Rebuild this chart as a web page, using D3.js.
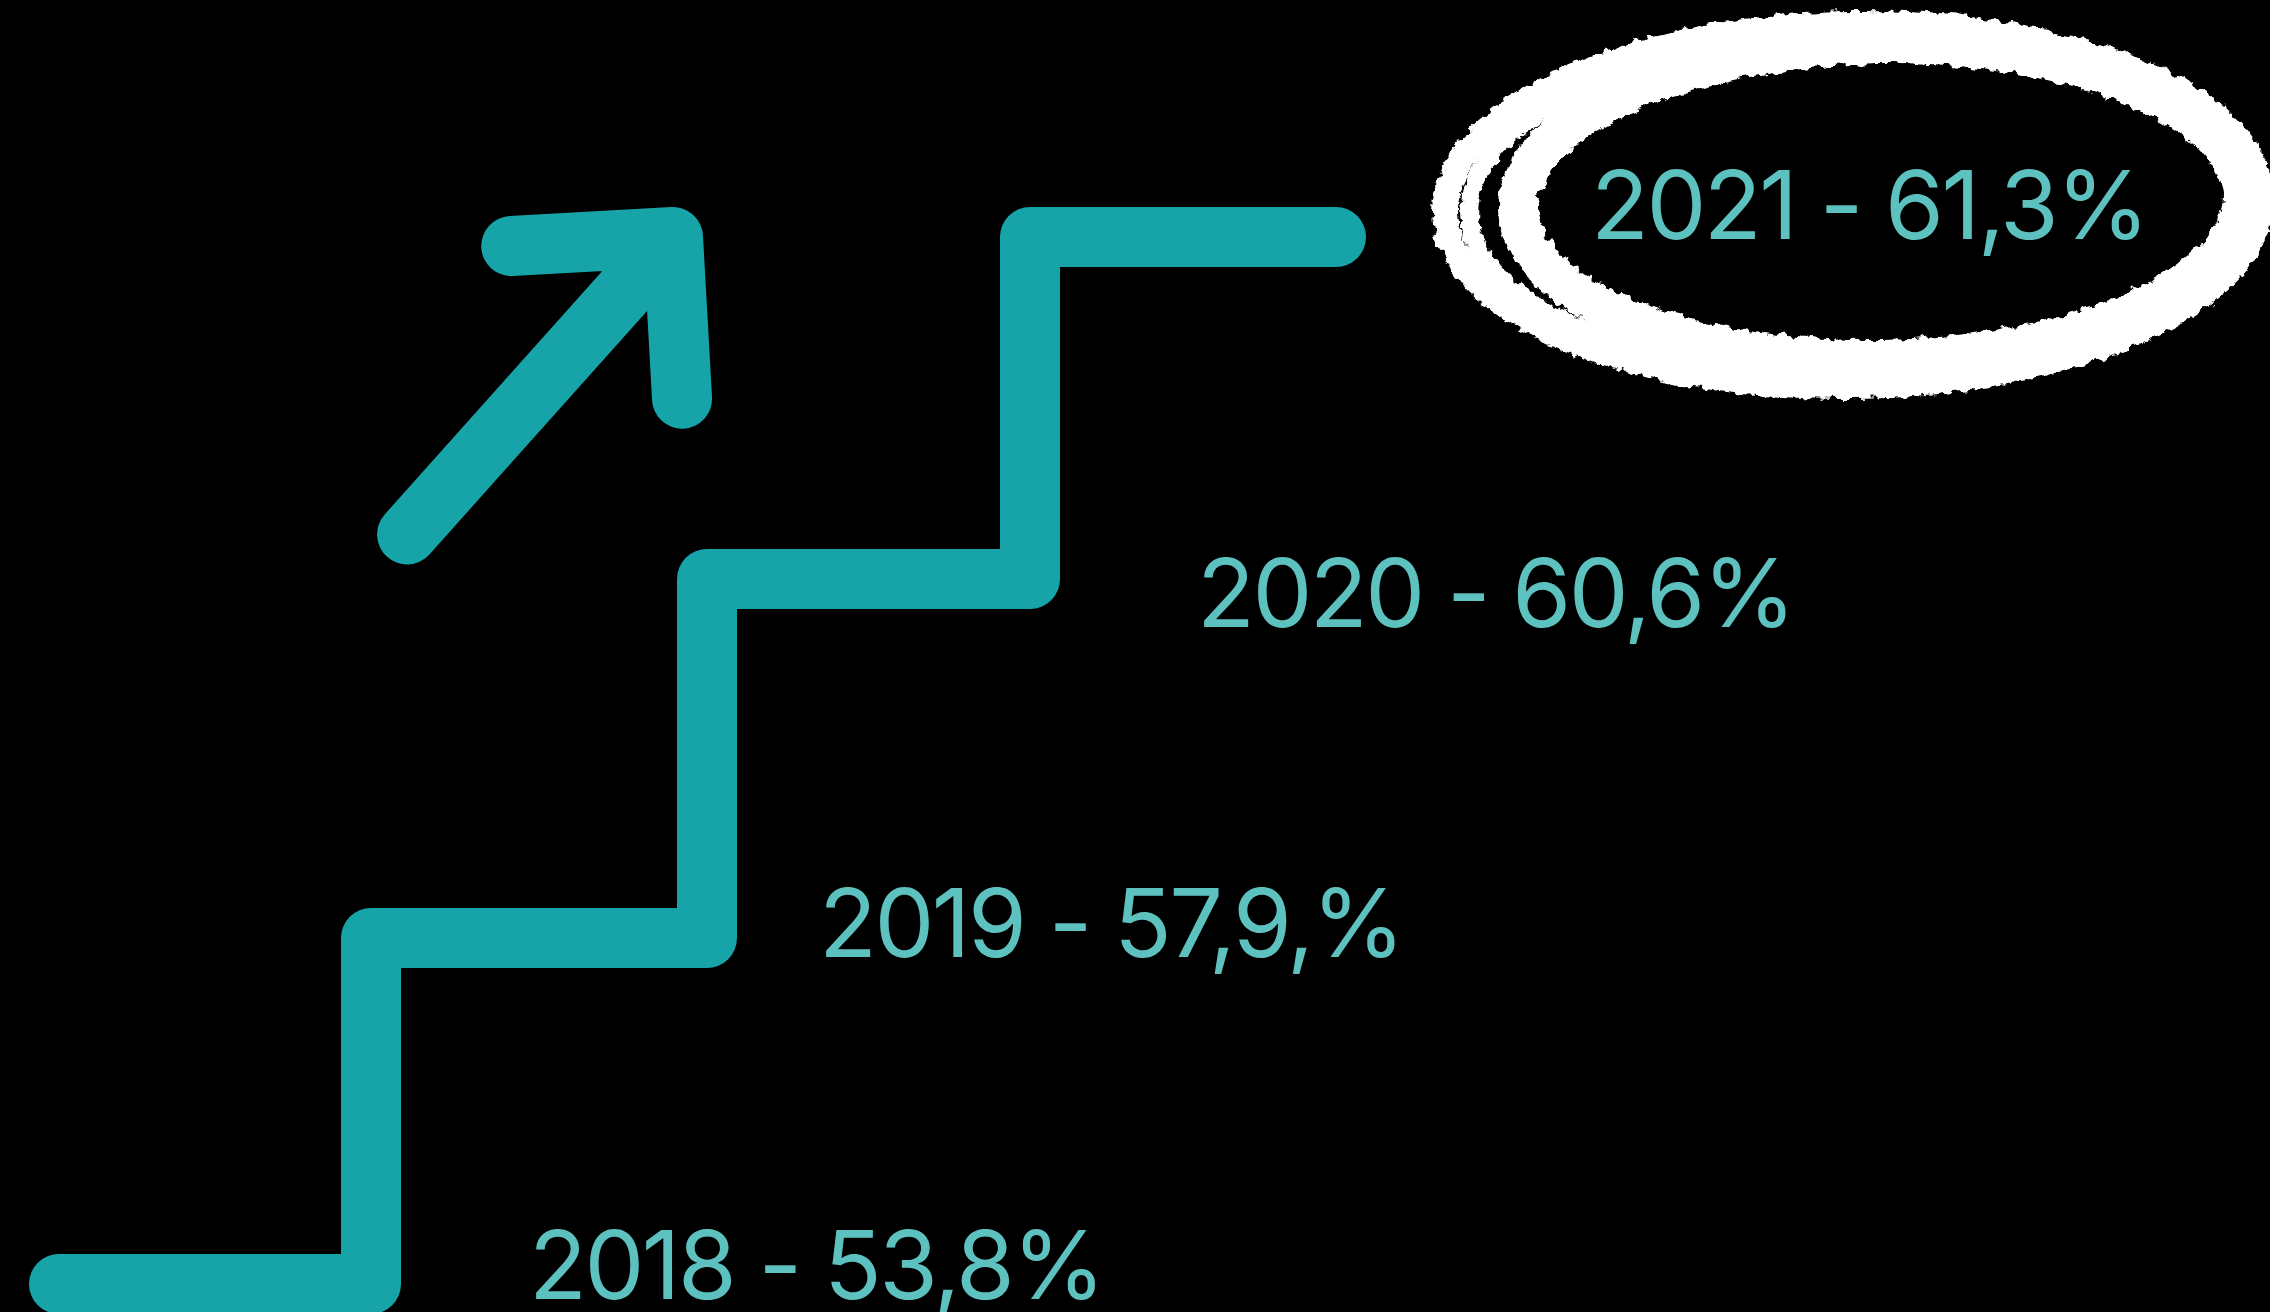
<!DOCTYPE html>
<html>
<head>
<meta charset="utf-8">
<script src="https://cdn.jsdelivr.net/npm/d3@7"></script>
<style>
  html, body { margin: 0; padding: 0; background: #000; }
  svg { display: block; }
  .label { font-family: 'Inter', 'Lato', sans-serif; font-weight: 400; fill: #5cc1bf; }
</style>
</head>
<body>
<div id="chart"></div>
<script>
// share by year, as printed on the steps
const years = ['2018', '2019', '2020', '2021']
const values = [53.8, 57.9, 60.6, 61.3]
const valueLabels = ['53,8%', '57,9,%', '60,6%', '61,3%']

const width = 2270
const height = 1312
const teal = '#17a4a8'
const stroke = 60

const svg = d3.select('#chart')
  .append('svg')
  .attr('width', width)
  .attr('height', height)

svg.append('rect')
  .attr('width', width)
  .attr('height', height)
  .attr('fill', '#000')

// rough chalk edge for the hand drawn ring
const defs = svg.append('defs')
const chalk = defs.append('filter')
  .attr('id', 'chalk')
  .attr('x', '-5%').attr('y', '-10%')
  .attr('width', '110%').attr('height', '120%')
chalk.append('feTurbulence')
  .attr('type', 'fractalNoise')
  .attr('baseFrequency', 0.1)
  .attr('numOctaves', 3)
  .attr('seed', 4)
  .attr('result', 'noise')
chalk.append('feDisplacementMap')
  .attr('in', 'SourceGraphic')
  .attr('in2', 'noise')
  .attr('scale', 11)
  .attr('xChannelSelector', 'R')
  .attr('yChannelSelector', 'G')

// one step per year, last step runs out to the end
const x = d3.scaleLinear()
  .domain([0, 1, 2, 3, 4])
  .range([59, 371, 707, 1030, 1336])

const y = d3.scaleLinear()
  .domain([0, 1, 2, 3])
  .range([1284, 938, 579, 237])

const stepPoints = years.map((d, i) => [x(i), y(i)])
stepPoints.push([x(years.length), y(years.length - 1)])

const stairs = d3.line().curve(d3.curveStepAfter)

svg.append('path')
  .attr('d', stairs(stepPoints))
  .attr('fill', 'none')
  .attr('stroke', teal)
  .attr('stroke-width', stroke)
  .attr('stroke-linecap', 'round')
  .attr('stroke-linejoin', 'round')

// arrow pointing up and to the right, tip level with the top step
const arrowTip = [673, y(years.length - 1)]
const shaft = 399
const arm = 162
const angle = -48.2
const arrow = d3.path()
arrow.moveTo(-shaft, 0)
arrow.lineTo(0, 0)
arrow.moveTo(-arm * Math.SQRT1_2, -arm * Math.SQRT1_2)
arrow.lineTo(0, 0)
arrow.lineTo(-arm * Math.SQRT1_2, arm * Math.SQRT1_2)

svg.append('path')
  .attr('d', arrow.toString())
  .attr('transform', `translate(${arrowTip[0]}, ${arrowTip[1]}) rotate(${angle})`)
  .attr('fill', 'none')
  .attr('stroke', teal)
  .attr('stroke-width', stroke)
  .attr('stroke-linecap', 'round')
  .attr('stroke-linejoin', 'round')

// ring around the latest year
const loops = [
  { cx: 1880, cy: 202, rx: 362, ry: 158, w: 40, r: -1 },
  { cx: 1862, cy: 201, rx: 393, ry: 171, w: 18, r: -2 },
  { cx: 1853, cy: 205, rx: 408, ry: 181, w: 26, r: -1 }
]

svg.append('g')
  .attr('filter', 'url(#chalk)')
  .selectAll('ellipse')
  .data(loops)
  .enter().append('ellipse')
  .attr('cx', d => d.cx)
  .attr('cy', d => d.cy)
  .attr('rx', d => d.rx)
  .attr('ry', d => d.ry)
  .attr('transform', d => `rotate(${d.r}, ${d.cx}, ${d.cy})`)
  .attr('fill', 'none')
  .attr('stroke', '#fff')
  .attr('stroke-width', d => d.w)

// labels
const labelX = d3.scaleLinear()
  .domain([0, 1, 2, 3])
  .range([529, 819, 1197, 1591])

const labelY = d3.scaleLinear()
  .domain([0, 1, 2, 3])
  .range([1299, 957, 627, 239])

svg.selectAll('text.label')
  .data(years)
  .enter().append('text')
  .attr('class', 'label')
  .attr('x', (d, i) => labelX(i))
  .attr('y', (d, i) => labelY(i))
  .attr('font-size', 95)
  .attr('letter-spacing', -2.5)
  .text((d, i) => `${d} - ${valueLabels[i]}`)
</script>
</body>
</html>
